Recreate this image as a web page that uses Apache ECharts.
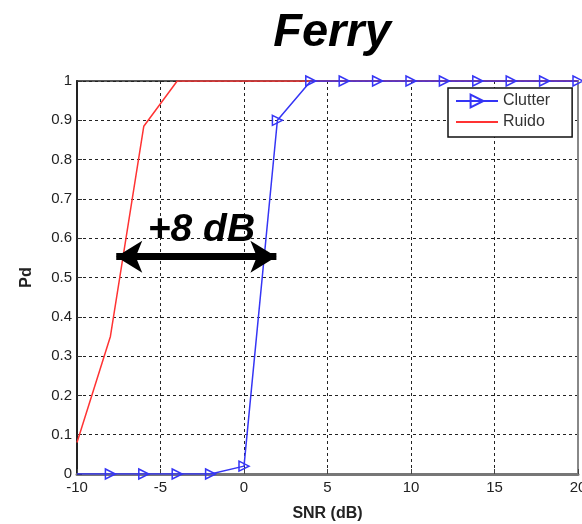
<!DOCTYPE html>
<html>
<head>
<meta charset="utf-8">
<script src="https://cdn.jsdelivr.net/npm/echarts@6/dist/echarts.min.js"></script>
<style>
  html, body { margin: 0; padding: 0; background: #fff; }
  #chart { width: 582px; height: 524px; }
</style>
</head>
<body>
<div id="chart"></div>
<script>
// SNR sweep (dB) and detection probability for both cases
const snr = [-10, -8, -6, -4, -2, 0, 2, 4, 6, 8, 10, 12, 14, 16, 18, 20];
const clutterPd = [0, 0, 0, 0, 0, 0.02, 0.9, 1, 1, 1, 1, 1, 1, 1, 1, 1];
const ruidoPd = [0.08, 0.35, 0.885, 1, 1, 1, 1, 1, 1, 1, 1, 1, 1, 1, 1, 1];

// Double arrow showing the SNR gap between the two curves
const gapStart = [-7.65, 0.553];
const gapEnd = [1.94, 0.553];
const gapText = '+8 dB';
const gapTextAt = [-2.55, 0.62];

const FONT = '"Liberation Sans", Arial, sans-serif';

const chart = echarts.init(document.getElementById('chart'), null, { renderer: 'canvas' });

const clutterData = snr.map((x, i) => i === 0
  ? { value: [x, clutterPd[i]], symbol: 'none' }
  : [x, clutterPd[i]]);
const ruidoData = snr.map((x, i) => [x, ruidoPd[i]]);

const gridLine = { show: true, lineStyle: { color: '#222', width: 1, type: [3, 3] } };

chart.setOption({
  animation: false,
  backgroundColor: '#fff',
  title: {
    text: 'Ferry',
    left: 327,
    top: 5,
    textAlign: 'center',
    textStyle: { fontFamily: FONT, fontSize: 47, fontWeight: 'bold', fontStyle: 'italic', color: '#000' }
  },
  legend: {
    orient: 'vertical',
    left: 448,
    top: 88,
    backgroundColor: '#fff',
    borderColor: '#111',
    borderWidth: 1.5,
    borderRadius: 0,
    padding: [5, 22, 7, 7],
    itemWidth: 42,
    itemHeight: 16,
    itemGap: 5,
    textStyle: { fontFamily: FONT, fontSize: 16, color: '#333' },
    data: ['Clutter', 'Ruido']
  },
  grid: {
    left: 77, right: 4, top: 81, bottom: 50,
    containLabel: false, outerBoundsMode: 'none',
    show: true, borderColor: '#222', borderWidth: 1.5, backgroundColor: '#fff'
  },
  xAxis: [{
    type: 'value', min: -10, max: 20, interval: 5,
    name: 'SNR (dB)', nameLocation: 'middle', nameGap: 32,
    nameTextStyle: { fontFamily: FONT, fontSize: 16, fontWeight: 'bold', color: '#222' },
    axisLine: { show: true, onZero: false, lineStyle: { color: '#777', width: 3 } },
    axisTick: { show: true, inside: true, length: 5, lineStyle: { color: '#444' } },
    axisLabel: { fontFamily: FONT, fontSize: 15, color: '#222', margin: 6 },
    splitLine: gridLine
  }],
  yAxis: [{
    type: 'value', min: 0, max: 1, interval: 0.1,
    name: 'Pd', nameLocation: 'middle', nameGap: 42, nameRotate: 90,
    nameTextStyle: { fontFamily: FONT, fontSize: 16, fontWeight: 'bold', color: '#222' },
    axisLine: { show: true, onZero: false, lineStyle: { color: '#222', width: 2 } },
    axisTick: { show: true, inside: true, length: 5, lineStyle: { color: '#333' } },
    axisLabel: { fontFamily: FONT, fontSize: 15, color: '#222', margin: 5 },
    splitLine: gridLine
  }, {
    type: 'value', min: 0, max: 1, interval: 0.1, position: 'right',
    axisLine: { show: true, onZero: false, lineStyle: { color: '#888', width: 2 } },
    axisTick: { show: false }, axisLabel: { show: false }, splitLine: { show: false }
  }],
  series: [
    {
      name: 'Clutter',
      type: 'line',
      data: clutterData,
      symbol: 'path://M0,0 L10,5 L0,10 Z',
      symbolSize: [10, 10],
      showAllSymbol: true,
      lineStyle: { color: '#3535f5', width: 1.5 },
      itemStyle: { color: 'rgba(255,255,255,0)', borderColor: '#3535f5', borderWidth: 1.5 },
      z: 3,
      markLine: {
        silent: true,
        symbol: ['arrow', 'arrow'],
        symbolSize: [24, 26],
        lineStyle: { color: '#000', width: 7, type: 'solid' },
        label: { show: false },
        data: [[{ coord: gapStart }, { coord: gapEnd }]]
      },
      markPoint: {
        silent: true,
        symbol: 'circle',
        symbolSize: 0,
        label: {
          show: true, position: 'inside', formatter: gapText,
          fontFamily: FONT, fontSize: 39, fontWeight: 'bold', fontStyle: 'italic', color: '#000'
        },
        data: [{ coord: gapTextAt }]
      }
    },
    {
      name: 'Ruido',
      type: 'line',
      data: ruidoData,
      symbol: 'none',
      lineStyle: { color: '#ff3333', width: 1.5 },
      itemStyle: { color: 'rgba(0,0,0,0)', borderWidth: 0 },
      z: 2
    }
  ]
});
</script>
</body>
</html>
